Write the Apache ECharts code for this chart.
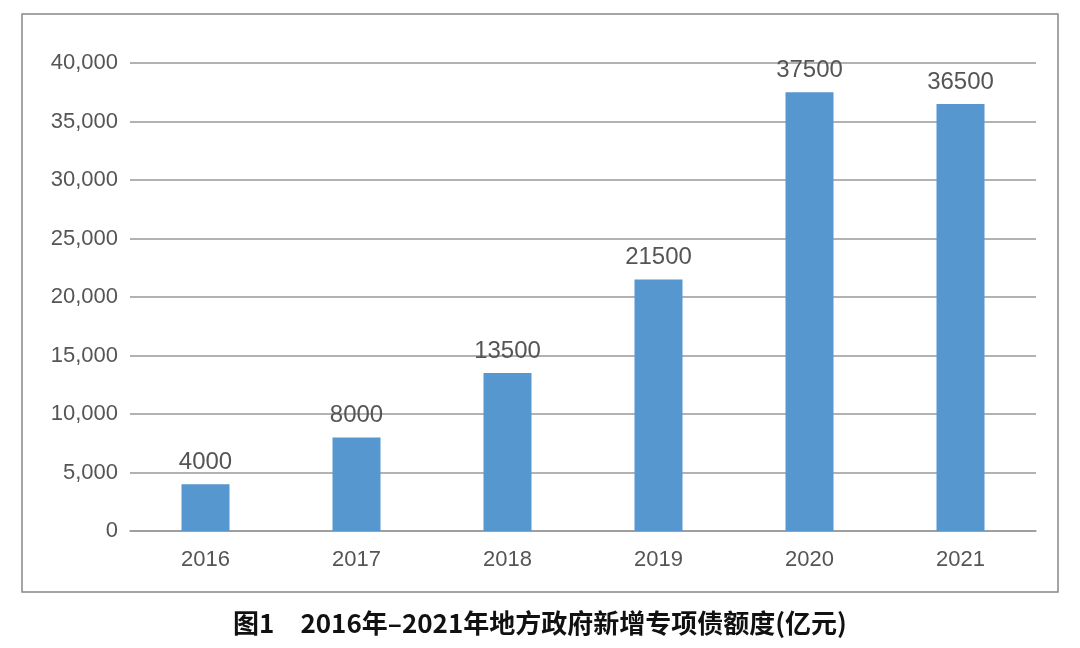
<!DOCTYPE html>
<html><head><meta charset="utf-8">
<script src="https://cdn.jsdelivr.net/npm/echarts@6/dist/echarts.min.js"></script>
<style>html,body{margin:0;padding:0;background:#fff}#c{width:1080px;height:648px}</style>
</head><body><div id="c"></div>
<script>
var categories = ['2016','2017','2018','2019','2020','2021'];
var values = [4000, 8000, 13500, 21500, 37500, 36500];
var chart = echarts.init(document.getElementById('c'));
chart.setOption({
  backgroundColor:'#fff',
  animation:false,
  graphic:[
    {type:'rect',shape:{x:22,y:14,width:1036,height:578},style:{fill:'none',stroke:'#888',lineWidth:1.5}},
    {type:'text',left:'center',top:610,style:{text:'图1　2016年–2021年地方政府新增专项债额度(亿元)',fill:'#111',font:'bold 26px "Noto Sans CJK SC"'}}
  ],
  grid:{left:130,right:44,top:63,bottom:117},
  xAxis:{type:'category',data:categories,
    axisLine:{lineStyle:{color:'#999',width:1.5}},axisTick:{show:false},
    axisLabel:{color:'#555',fontSize:22,margin:18,fontFamily:'Liberation Sans'}},
  yAxis:{type:'value',min:0,max:40000,interval:5000,
    axisLine:{show:false},axisTick:{show:false},
    splitLine:{lineStyle:{color:'#999',width:1.5}},
    axisLabel:{color:'#555',fontSize:22,margin:12,fontFamily:'Liberation Sans'}},
  series:[{type:'bar',data:values,barWidth:48,
    itemStyle:{color:'#5797cf'},
    label:{show:true,position:'top',distance:10,color:'#555',fontSize:24,fontFamily:'Liberation Sans'}}]
});
</script></body></html>
